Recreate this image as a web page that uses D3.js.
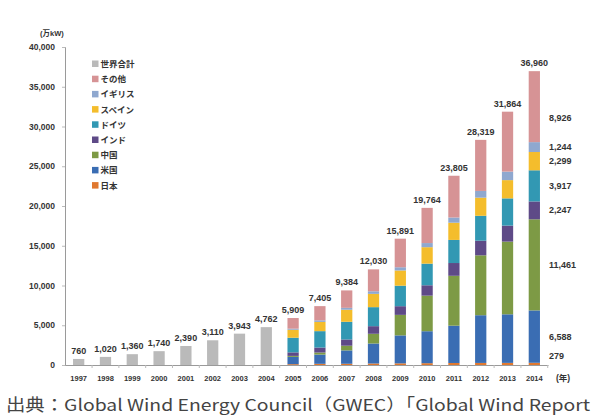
<!DOCTYPE html>
<html>
<head>
<meta charset="utf-8">
<script src="https://cdn.jsdelivr.net/npm/d3@7"></script>
<style>
  body { margin: 0; background: #fff; }
  svg { display: block; font-family: "Liberation Sans", "Noto Sans CJK JP", sans-serif; }
</style>
</head>
<body>
<svg id="chart" width="595" height="416"></svg>
<script>
// years on the x axis
const years = ['1997','1998','1999','2000','2001','2002','2003','2004','2005','2006',
               '2007','2008','2009','2010','2011','2012','2013','2014'];
// world total (万kW)
const worldTotal = [760, 1020, 1360, 1740, 2390, 3110, 3943, 4762, 5909, 7405,
                    9384, 12030, 15891, 19764, 23805, 28319, 31864, 36960];
// country breakdown starts in 2005
const breakdownYears = ['2005','2006','2007','2008','2009','2010','2011','2012','2013','2014'];
const japan   = [104, 149, 154, 188, 208, 229, 254, 261, 266, 279];
const usa     = [915, 1160, 1682, 2517, 3516, 4020, 4692, 6001, 6111, 6588];
const china   = [126, 260, 591, 1221, 2581, 4473, 6273, 7532, 9142, 11461];
const india   = [443, 627, 785, 959, 1093, 1307, 1608, 1842, 2015, 2247];
const germany = [1843, 2062, 2225, 2390, 2578, 2721, 2906, 3133, 3425, 3917];
const spain   = [1003, 1163, 1515, 1674, 1915, 2068, 2167, 2280, 2296, 2299];
const uk      = [135, 196, 239, 324, 405, 520, 654, 845, 1071, 1244];
const other   = [1340, 1788, 2193, 2757, 3595, 4426, 5251, 6425, 7538, 8926];

const yTicks = [0, 5000, 10000, 15000, 20000, 25000, 30000, 35000, 40000];

// stacking order bottom -> top
const series = [
  {key: 'japan',   name: '日本',     color: '#e0782f', values: japan},
  {key: 'usa',     name: '米国',     color: '#3a6db3', values: usa},
  {key: 'china',   name: '中国',     color: '#7d9a45', values: china},
  {key: 'india',   name: 'インド',   color: '#5e4a87', values: india},
  {key: 'germany', name: 'ドイツ',   color: '#3298b3', values: germany},
  {key: 'spain',   name: 'スペイン', color: '#f4bd2c', values: spain},
  {key: 'uk',      name: 'イギリス', color: '#8fa8cf', values: uk},
  {key: 'other',   name: 'その他',   color: '#d69395', values: other}
];
const totalColor = '#bababa';
const ink = '#333';

const svg = d3.select('#chart');
const margin = {left: 65, right: 47, top: 47, bottom: 51};
const x0 = margin.left, x1 = 595 - margin.right;
const yBase = 416 - margin.bottom, yTop = margin.top;

const x = d3.scaleBand().domain(years).range([x0, x1]).paddingInner(0.58).paddingOuter(0.3);
const y = d3.scaleLinear().domain([0, 40000]).range([yBase, yTop]);

// y axis
const yAxis = d3.axisLeft(y).tickValues(yTicks).tickFormat(d3.format(',')).tickSize(3);
const yg = svg.append('g').attr('transform', `translate(${x0},0)`).call(yAxis);
yg.select('.domain').attr('stroke', '#9a9a9a');
yg.selectAll('.tick line').attr('stroke', '#bbb');
yg.selectAll('.tick text')
  .attr('fill', ink).attr('font-weight', 'bold').attr('font-size', 8.5).attr('x', -10);

// x axis
const xAxis = d3.axisBottom(x).tickSize(3).tickSizeOuter(0);
const xg = svg.append('g').attr('transform', `translate(0,${yBase})`).call(xAxis);
xg.select('.domain').attr('stroke', '#9a9a9a');
xg.selectAll('.tick line').attr('stroke', '#bbb')
  .attr('transform', `translate(${x.step() / 2},0)`);
xg.selectAll('.tick text')
  .attr('fill', ink).attr('font-weight', 'bold').attr('font-size', 7.5).attr('dy', '1.3em');

svg.append('text').attr('fill', ink).attr('font-weight', 'bold').attr('font-size', 8.5)
  .attr('x', 556).attr('y', yBase + 16).text('(年)');
svg.append('text').attr('fill', ink).attr('font-weight', 'bold').attr('font-size', 7.5)
  .attr('x', 40).attr('y', 36).text('(万kW)');

// gray total bars 1997-2004
const grayData = years.map((yr, i) => ({year: yr, v: worldTotal[i]}))
  .filter(d => !breakdownYears.includes(d.year));
svg.append('g').selectAll('rect').data(grayData).join('rect')
  .attr('x', d => x(d.year)).attr('width', x.bandwidth())
  .attr('y', d => y(d.v)).attr('height', d => y(0) - y(d.v))
  .attr('fill', totalColor);

// stacked bars 2005-2014
const rows = breakdownYears.map((yr, i) => {
  const r = {year: yr};
  series.forEach(s => r[s.key] = s.values[i]);
  return r;
});
const stack = d3.stack().keys(series.map(s => s.key));
const stacked = stack(rows);
svg.append('g').selectAll('g').data(stacked).join('g')
  .attr('fill', (d, i) => series[i].color)
  .selectAll('rect').data(d => d).join('rect')
  .attr('x', d => x(d.data.year)).attr('width', x.bandwidth())
  .attr('y', d => y(d[1])).attr('height', d => y(d[0]) - y(d[1]));

// total labels
svg.append('g').selectAll('text').data(years).join('text')
  .attr('fill', ink).attr('font-weight', 'bold').attr('font-size', 9).attr('text-anchor', 'middle')
  .attr('x', d => x(d) + x.bandwidth() / 2)
  .attr('y', (d, i) => y(worldTotal[i]) - 5)
  .text((d, i) => d3.format(',')(worldTotal[i]));

// 2014 segment labels
const last = stacked.map((s, i) => ({name: series[i].key, lo: s[s.length - 1][0], hi: s[s.length - 1][1]}));
svg.append('g').selectAll('text').data(last).join('text')
  .attr('fill', ink).attr('font-weight', 'bold').attr('font-size', 9)
  .attr('x', x('2014') + x.bandwidth() + 9)
  .attr('y', d => {
    let yy = y((d.lo + d.hi) / 2) + 3;
    if (d.name === 'other') yy += 11;
    if (d.name === 'japan') yy -= 8;
    return yy;
  })
  .text(d => d3.format(',')(d.hi - d.lo));

// legend
const legendItems = [{name: '世界合計', color: totalColor}].concat(series.slice().reverse());
const lg = svg.append('g').attr('transform', 'translate(92,64)');
const li = lg.selectAll('g').data(legendItems).join('g')
  .attr('transform', (d, i) => `translate(0,${i * 15.2})`);
li.append('rect').attr('x', 0).attr('y', -3.5).attr('width', 6.5).attr('height', 6.5)
  .attr('fill', d => d.color);
li.append('text').attr('fill', ink).attr('font-weight', 'bold').attr('font-size', 8.5)
  .attr('x', 8.5).attr('y', 3).text(d => d.name);

// source
svg.append('text').attr('x', 6).attr('y', 411)
  .attr('font-size', 16.5).attr('fill', '#444')
  .attr('font-family', '"Noto Sans CJK JP", sans-serif')
  .attr('textLength', 584).attr('lengthAdjust', 'spacingAndGlyphs')
  .text('出典：Global Wind Energy Council（GWEC）「Global Wind Report');
</script>
</body>
</html>
